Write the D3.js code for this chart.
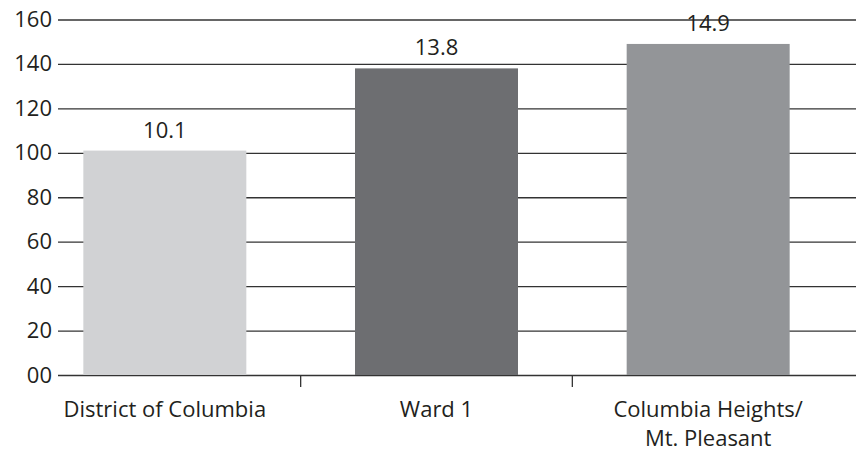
<!DOCTYPE html>
<html>
<head>
<meta charset="utf-8">
<script src="https://cdn.jsdelivr.net/npm/d3@7"></script>
<style>
  html, body { margin: 0; padding: 0; background: #fff; }
  svg { display: block; }
  text { font-family: "Open Sans", "Noto Sans", sans-serif; fill: #231f20; }
</style>
</head>
<body>
<svg id="chart" width="856" height="451"></svg>
<script>
// Categories, values and axis labels
const categories = ["District of Columbia", "Ward 1", "Columbia Heights/\nMt. Pleasant"];
const values = [10.1, 13.8, 14.9];
const valueLabels = ["10.1", "13.8", "14.9"];
const barColors = ["#d1d2d4", "#6d6e71", "#939598"];
const tickValues = [0, 2, 4, 6, 8, 10, 12, 14, 16];
const tickLabels = ["00", "20", "40", "60", "80", "100", "120", "140", "160"];

const svg = d3.select("#chart");
const plotLeft = 58, plotRight = 856, plotTop = 19.5, plotBottom = 375;

const x = d3.scaleBand()
  .domain(categories)
  .range([29, 844])
  .paddingInner(0.4)
  .paddingOuter(0.2);

const y = d3.scaleLinear()
  .domain([0, 16])
  .range([plotBottom, plotTop]);

// Horizontal gridlines with value labels on the left
const yAxis = svg.append("g")
  .attr("transform", `translate(${plotLeft},0)`)
  .call(d3.axisLeft(y)
    .tickValues(tickValues)
    .tickFormat((d, i) => tickLabels[i])
    .tickSize(-(plotRight - plotLeft))
    .tickPadding(6));
yAxis.select(".domain").remove();
yAxis.selectAll(".tick line").attr("stroke", "#333").attr("stroke-width", 1.3);
yAxis.selectAll(".tick text")
  .attr("font-size", 22)
  .attr("fill", "#231f20")
  .style("font-family", "'Open Sans', sans-serif");

// Bars
svg.append("g").selectAll("rect")
  .data(values)
  .join("rect")
  .attr("x", (d, i) => x(categories[i]))
  .attr("width", x.bandwidth())
  .attr("y", d => y(d))
  .attr("height", d => y(0) - y(d))
  .attr("fill", (d, i) => barColors[i]);

// Value labels above bars
svg.append("g").selectAll("text")
  .data(values)
  .join("text")
  .attr("x", (d, i) => x(categories[i]) + x.bandwidth() / 2)
  .attr("y", d => y(d) - 13)
  .attr("text-anchor", "middle")
  .attr("font-size", 22)
  .text((d, i) => valueLabels[i]);

// Category separators below the baseline
const step = x.step();
svg.append("g").selectAll("line")
  .data(categories.slice(1))
  .join("line")
  .attr("x1", d => x(d) - step * x.paddingInner() / 2)
  .attr("x2", d => x(d) - step * x.paddingInner() / 2)
  .attr("y1", plotBottom)
  .attr("y2", plotBottom + 12)
  .attr("stroke", "#333")
  .attr("stroke-width", 1.3);

// Category labels, one text element per line
const catLines = categories.flatMap(c =>
  c.split("\n").map((ln, k) => ({ cat: c, text: ln, line: k })));
svg.append("g").selectAll("text")
  .data(catLines)
  .join("text")
  .attr("x", d => x(d.cat) + x.bandwidth() / 2)
  .attr("y", d => 417 + d.line * 29)
  .attr("text-anchor", "middle")
  .attr("font-size", 22)
  .text(d => d.text);
</script>
</body>
</html>
